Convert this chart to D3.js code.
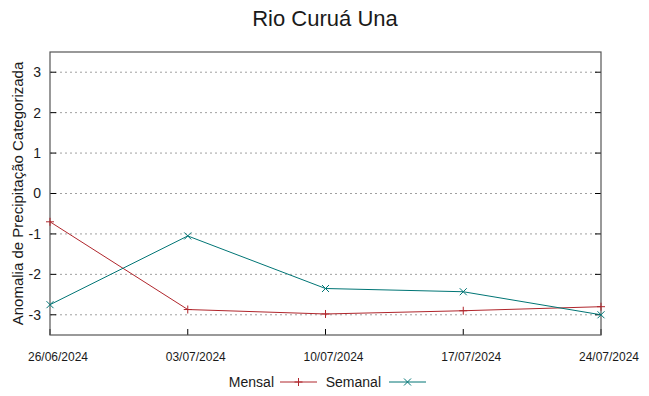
<!DOCTYPE html>
<html>
<head>
<meta charset="utf-8">
<script src="https://cdn.jsdelivr.net/npm/d3@7"></script>
<style>
  body { margin: 0; background: #fff; }
  text { font-family: "Liberation Sans", Arial, sans-serif; fill: #1a1a1a; }
</style>
</head>
<body>
<div id="chart"></div>
<script>
const dates = ['26/06/2024', '03/07/2024', '10/07/2024', '17/07/2024', '24/07/2024'];
const mensal = [-0.70, -2.87, -2.98, -2.90, -2.80];
const semanal = [-2.75, -1.05, -2.35, -2.43, -3.00];
const yTicks = [-3, -2, -1, 0, 1, 2, 3];

const width = 649, height = 396;
const margin = {top: 52, right: 48, bottom: 61, left: 50};

const svg = d3.select('#chart').append('svg')
    .attr('width', width)
    .attr('height', height);

const parse = d3.timeParse('%d/%m/%Y');
const x = d3.scaleTime()
    .domain([parse(dates[0]), parse(dates[dates.length - 1])])
    .range([margin.left, width - margin.right]);
const y = d3.scaleLinear()
    .domain([-3.5, 3.5])
    .range([height - margin.bottom, margin.top]);

// grid
svg.append('g').selectAll('line')
    .data(yTicks)
    .enter().append('line')
    .attr('x1', margin.left).attr('x2', width - margin.right)
    .attr('y1', d => y(d)).attr('y2', d => y(d))
    .attr('stroke', '#a0a0a0')
    .attr('stroke-width', 1)
    .attr('stroke-dasharray', '2,3');

// ticks (inward, gnuplot style)
const tk = svg.append('g').attr('stroke', '#000').attr('stroke-width', 1);
yTicks.forEach(function(d){
    tk.append('line').attr('x1', margin.left).attr('x2', margin.left + 6)
        .attr('y1', y(d)).attr('y2', y(d));
    tk.append('line').attr('x1', width - margin.right - 6).attr('x2', width - margin.right)
        .attr('y1', y(d)).attr('y2', y(d));
});
dates.forEach(function(d){
    tk.append('line').attr('x1', x(parse(d))).attr('x2', x(parse(d)))
        .attr('y1', height - margin.bottom).attr('y2', height - margin.bottom - 6);
});

// border
svg.append('rect')
    .attr('x', margin.left).attr('y', margin.top)
    .attr('width', width - margin.left - margin.right)
    .attr('height', height - margin.top - margin.bottom)
    .attr('fill', 'none')
    .attr('stroke', '#555')
    .attr('stroke-width', 1.2);

// y labels
svg.append('g').selectAll('text')
    .data(yTicks)
    .enter().append('text')
    .attr('x', margin.left - 9)
    .attr('y', d => y(d))
    .attr('dy', '0.35em')
    .attr('text-anchor', 'end')
    .style('font-size', '14px')
    .text(d => d);

// x labels
svg.append('g').selectAll('text')
    .data(dates)
    .enter().append('text')
    .attr('x', d => x(parse(d)) + 8)
    .attr('y', height - margin.bottom + 26)
    .attr('text-anchor', 'middle')
    .style('font-size', '12px')
    .text(d => d);

// title
svg.append('text')
    .attr('x', 325)
    .attr('y', 26)
    .attr('text-anchor', 'middle')
    .style('font-size', '22px')
    .text('Rio Curuá Una');

// y axis title
svg.append('text')
    .attr('transform', `translate(23, ${(margin.top + height - margin.bottom) / 2}) rotate(-90)`)
    .attr('text-anchor', 'middle')
    .style('font-size', '15px')
    .text('Anomalia de Precipitação Categorizada');

const line = d3.line()
    .x((d, i) => x(parse(dates[i])))
    .y(d => y(d));

function plusMark(g, px, py, color){
    g.append('path')
        .attr('d', `M${px - 4},${py}H${px + 4}M${px},${py - 4}V${py + 4}`)
        .attr('stroke', color).attr('stroke-width', 1);
}
function crossMark(g, px, py, color){
    g.append('path')
        .attr('d', `M${px - 3.5},${py - 3.5}L${px + 3.5},${py + 3.5}M${px - 3.5},${py + 3.5}L${px + 3.5},${py - 3.5}`)
        .attr('stroke', color).attr('stroke-width', 1);
}

const series = [
    {name: 'Mensal', values: mensal, color: '#b0262c', mark: plusMark},
    {name: 'Semanal', values: semanal, color: '#007575', mark: crossMark}
];

series.forEach(function(s){
    const g = svg.append('g');
    g.append('path')
        .attr('d', line(s.values))
        .attr('fill', 'none')
        .attr('stroke', s.color)
        .attr('stroke-width', 1);
    s.values.forEach(function(v, i){
        s.mark(g, x(parse(dates[i])), y(v), s.color);
    });
});

// legend
const ly = 382;
const legend = svg.append('g');
legend.append('text').attr('x', 274).attr('y', ly).attr('dy', '0.35em')
    .attr('text-anchor', 'end').style('font-size', '14px').text('Mensal');
legend.append('line').attr('x1', 280).attr('x2', 317).attr('y1', ly).attr('y2', ly)
    .attr('stroke', series[0].color);
plusMark(legend, 298.5, ly, series[0].color);
legend.append('text').attr('x', 381).attr('y', ly).attr('dy', '0.35em')
    .attr('text-anchor', 'end').style('font-size', '14px').text('Semanal');
legend.append('line').attr('x1', 389).attr('x2', 426).attr('y1', ly).attr('y2', ly)
    .attr('stroke', series[1].color);
crossMark(legend, 407.5, ly, series[1].color);
</script>
</body>
</html>
